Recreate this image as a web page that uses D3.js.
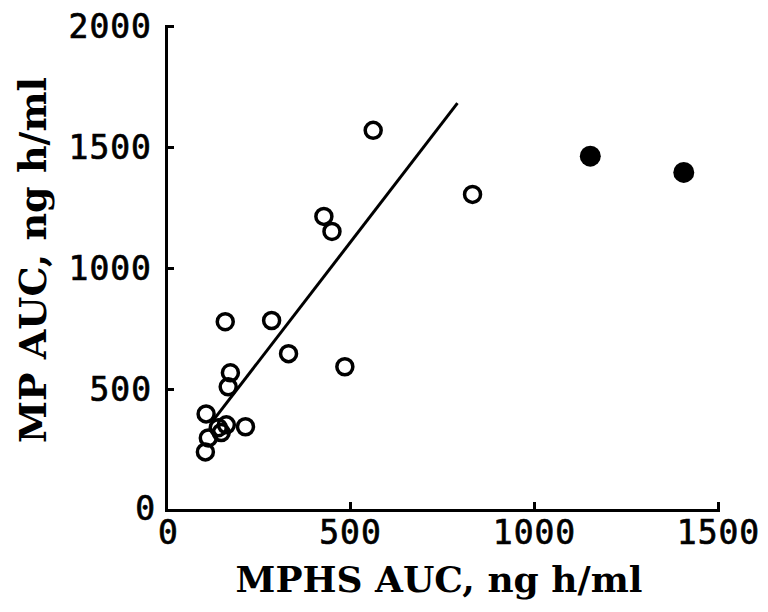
<!DOCTYPE html>
<html><head><meta charset="utf-8">
<script src="https://cdn.jsdelivr.net/npm/d3@7"></script>
<style>body{margin:0;background:#fff}</style>
</head><body>
<svg id="c" width="768" height="612"></svg>
<script>
// MPHS AUC (x) vs MP AUC (y), ng h/ml
const openX = [563, 429, 451, 833, 161, 287, 333, 486, 175, 169, 109, 142, 164, 216, 150, 115, 107];
const openY = [1569, 1213, 1151, 1304, 778, 783, 646, 592, 567, 509, 397, 340, 352, 344, 320, 298, 240];
const filledX = [1153, 1407];
const filledY = [1462, 1395];
const lineX = [123, 792];
const lineY = [360, 1681];
const xTicks = [0, 500, 1000, 1500];
const yTicks = [0, 500, 1000, 1500, 2000];
const xTitle = "MPHS AUC, ng h/ml";
const yTitle = "MP AUC, ng h/ml";

const svg = d3.select("#c");
const x = d3.scaleLinear().domain([0, 1500]).range([166, 718]);
const y = d3.scaleLinear().domain([0, 2000]).range([510, 26]);
const tickFont = "'DejaVu Sans Mono','Liberation Mono',monospace";
const titleFont = "'DejaVu Serif','Liberation Serif',serif";

const xAxis = svg.append("g").attr("transform", `translate(0,${y(0)})`)
  .call(d3.axisBottom(x).tickValues(xTicks).tickSize(-8).tickPadding(10).tickFormat(d3.format("d")));
const yAxis = svg.append("g").attr("transform", `translate(${x(0)},0)`)
  .call(d3.axisLeft(y).tickValues(yTicks).tickSize(-8).tickPadding(15).tickFormat(d3.format("d")));
[xAxis, yAxis].forEach(a => {
  a.select(".domain").attr("stroke", "#000").attr("stroke-width", 3);
  a.selectAll(".tick line").attr("stroke", "#000").attr("stroke-width", 3);
  a.selectAll(".tick text").attr("font-family", tickFont).attr("font-size", 33)
    .attr("letter-spacing", 1).attr("fill", "#000")
    .attr("stroke", "#000").attr("stroke-width", 0.7);
});
xAxis.selectAll(".tick text").attr("dy", "0.74em");
yAxis.selectAll(".tick text").attr("dy", "0.36em").attr("dx", 1);
xAxis.selectAll(".tick").filter(d => d === 0).select("text").attr("dx", 2);
yAxis.selectAll(".tick").filter(d => d === 0).select("text").attr("dx", 5).attr("dy", "0.3em");

svg.append("text").attr("x", 439).attr("y", 592).attr("text-anchor", "middle")
  .attr("font-family", titleFont).attr("font-weight", "bold").attr("font-size", 36).text(xTitle);
svg.append("text").attr("transform", `translate(46,260) rotate(-90)`)
  .attr("text-anchor", "middle")
  .attr("font-family", titleFont).attr("font-weight", "bold").attr("font-size", 38).text(yTitle);

svg.append("line")
  .attr("x1", x(lineX[0])).attr("y1", y(lineY[0]))
  .attr("x2", x(lineX[1])).attr("y2", y(lineY[1]))
  .attr("stroke", "#000").attr("stroke-width", 3);

svg.append("g").selectAll("circle").data(openX.map((d, i) => [d, openY[i]])).join("circle")
  .attr("cx", d => x(d[0])).attr("cy", d => y(d[1])).attr("r", 8)
  .attr("fill", "none").attr("stroke", "#000").attr("stroke-width", 3.5);
svg.append("g").selectAll("circle").data(filledX.map((d, i) => [d, filledY[i]])).join("circle")
  .attr("cx", d => x(d[0])).attr("cy", d => y(d[1])).attr("r", 10.5).attr("fill", "#000");
</script>
</body></html>
